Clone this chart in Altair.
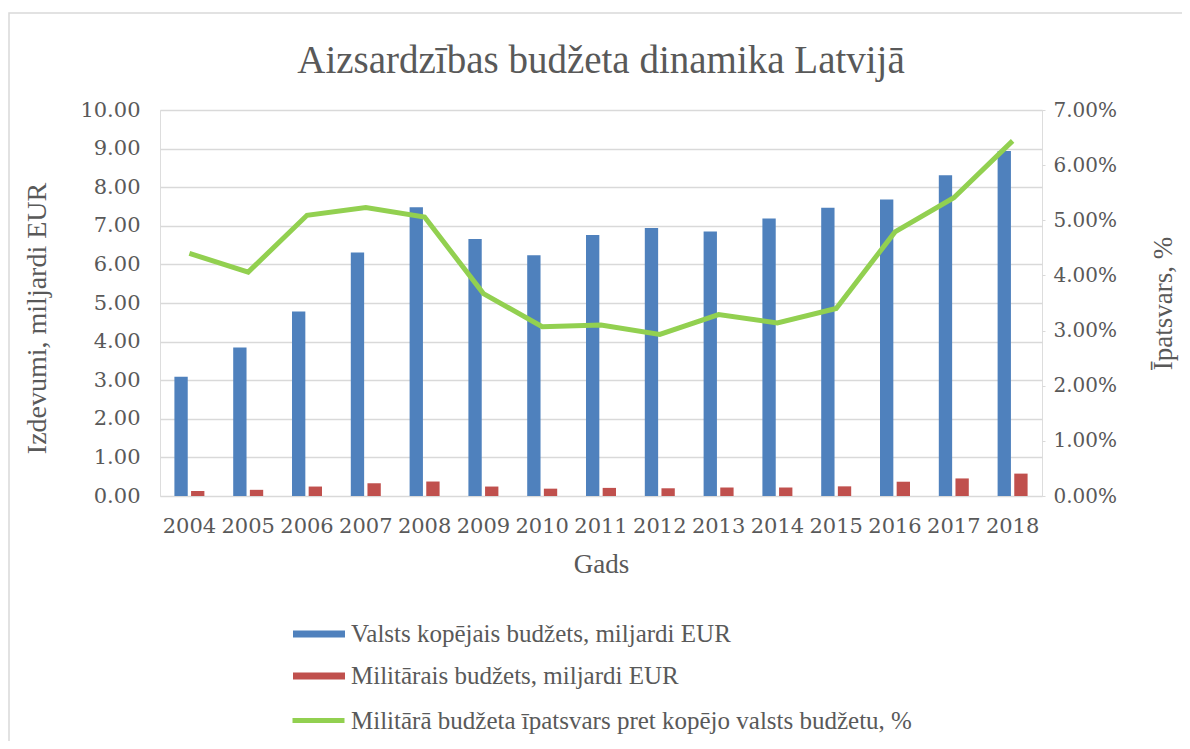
import altair as alt
import pandas as pd

years = ["2004", "2005", "2006", "2007", "2008", "2009", "2010", "2011",
         "2012", "2013", "2014", "2015", "2016", "2017", "2018"]
total_budget = [3.09, 3.85, 4.78, 6.31, 7.48, 6.66, 6.24, 6.76,
                6.94, 6.85, 7.19, 7.47, 7.68, 8.31, 8.94]
military_budget = [0.13, 0.16, 0.245, 0.33, 0.375, 0.245, 0.19, 0.21,
                   0.20, 0.22, 0.22, 0.25, 0.37, 0.455, 0.58]
share = [0.0440, 0.0406, 0.0509, 0.0523, 0.0506, 0.0367, 0.0307, 0.0310,
         0.0293, 0.0329, 0.0314, 0.0340, 0.0479, 0.0541, 0.0644]

s_total = "Valsts kopējais budžets, miljardi EUR"
s_mil = "Militārais budžets, miljardi EUR"
s_share = "Militārā budžeta īpatsvars pret kopējo valsts budžetu, %"

bars_df = pd.DataFrame({
    "year": years * 2,
    "series": [s_total] * len(years) + [s_mil] * len(years),
    "value": total_budget + military_budget,
})
line_df = pd.DataFrame({"year": years, "share": share, "series": [s_share] * len(years)})

TXT = "#595959"
NUMF = "DejaVu Serif"
TF = "Liberation Serif"

x_enc = alt.X(
    "year:N",
    sort=years,
    scale=alt.Scale(paddingInner=0.49, paddingOuter=0.245),
    axis=alt.Axis(title="Gads", labelAngle=0, labelFont=NUMF, labelFontSize=21,
                  labelColor=TXT, labelPadding=19, ticks=False, domain=False,
                  titleFont=TF, titleFontSize=27, titleColor=TXT, titleFontWeight="normal",
                  titlePadding=15),
)

bars = alt.Chart(bars_df).mark_bar().encode(
    x=x_enc,
    xOffset=alt.XOffset("series:N", sort=[s_total, s_mil],
                        scale=alt.Scale(domain=[s_total, s_mil], paddingInner=0.2)),
    y=alt.Y("value:Q",
            scale=alt.Scale(domain=[0, 10], nice=False),
            axis=alt.Axis(title="Izdevumi, miljardi EUR", format=".2f", values=list(range(0, 11)),
                          labelFont=NUMF, labelFontSize=21, labelColor=TXT, labelPadding=20,
                          ticks=False, domain=False, grid=True, gridColor="#D9D9D9",
                          gridWidth=1.3, titleFont=TF, titleFontSize=28, titleColor=TXT,
                          titleFontWeight="normal", titlePadding=28, titleY=208)),
    color=alt.Color("series:N",
                    scale=alt.Scale(domain=[s_total, s_mil], range=["#4F81BD", "#C0504D"]),
                    legend=alt.Legend(title=None, orient="none", legendX=133, legendY=498,
                                      symbolType="M-1,-0.13H1V0.13H-1Z", symbolSize=2704,
                                      symbolStrokeWidth=0, labelFont=TF, labelFontSize=25,
                                      labelColor=TXT, labelOffset=6, rowPadding=3,
                                      labelLimit=900)),
)

line = alt.Chart(line_df).mark_line(strokeWidth=5).encode(
    x=alt.X("year:N", sort=years),
    y=alt.Y("share:Q",
            scale=alt.Scale(domain=[0, 0.07], nice=False),
            axis=alt.Axis(orient="right", title="Īpatsvars, %", format=".2%",
                          values=[0, 0.01, 0.02, 0.03, 0.04, 0.05, 0.06, 0.07],
                          labelFont=NUMF, labelFontSize=20, labelColor=TXT, labelPadding=8,
                          ticks=True, tickSize=3, tickColor="#D9D9D9", domain=False, grid=False,
                          titleFont=TF, titleFontSize=27, titleColor=TXT, titleAngle=270,
                          titleBaseline="top", titleFontWeight="normal", titlePadding=34)),
    stroke=alt.Stroke("series:N",
                      scale=alt.Scale(domain=[s_share], range=["#92D050"]),
                      legend=alt.Legend(title=None, orient="none", legendX=130, legendY=582,
                                        symbolType="stroke", symbolSize=2704,
                                        symbolStrokeWidth=5, labelFont=TF, labelFontSize=25,
                                        labelColor=TXT, labelOffset=4, labelLimit=900)),
)

border = alt.Chart(pd.DataFrame({"a": [0]})).mark_rect(
    fill="transparent", stroke="#D9D9D9", strokeWidth=1.5
).encode(x=alt.value(-151), x2=alt.value(1200), y=alt.value(-97), y2=alt.value(800))

chart = alt.layer(border, bars, line).resolve_scale(y="independent").properties(
    width=882, height=386,
    autosize=alt.AutoSizeParams(type="none"),
    padding={"left": 152, "top": 102, "right": 140, "bottom": 245},
    title=alt.TitleParams("Aizsardzības budžeta dinamika Latvijā", font=TF, fontSize=39,
                          color=TXT, fontWeight="normal", anchor="middle", offset=10, dy=79),
).configure_view(stroke=None).configure(background="white")

chart.save("out.html", embed_options={"renderer": "svg", "actions": False})
